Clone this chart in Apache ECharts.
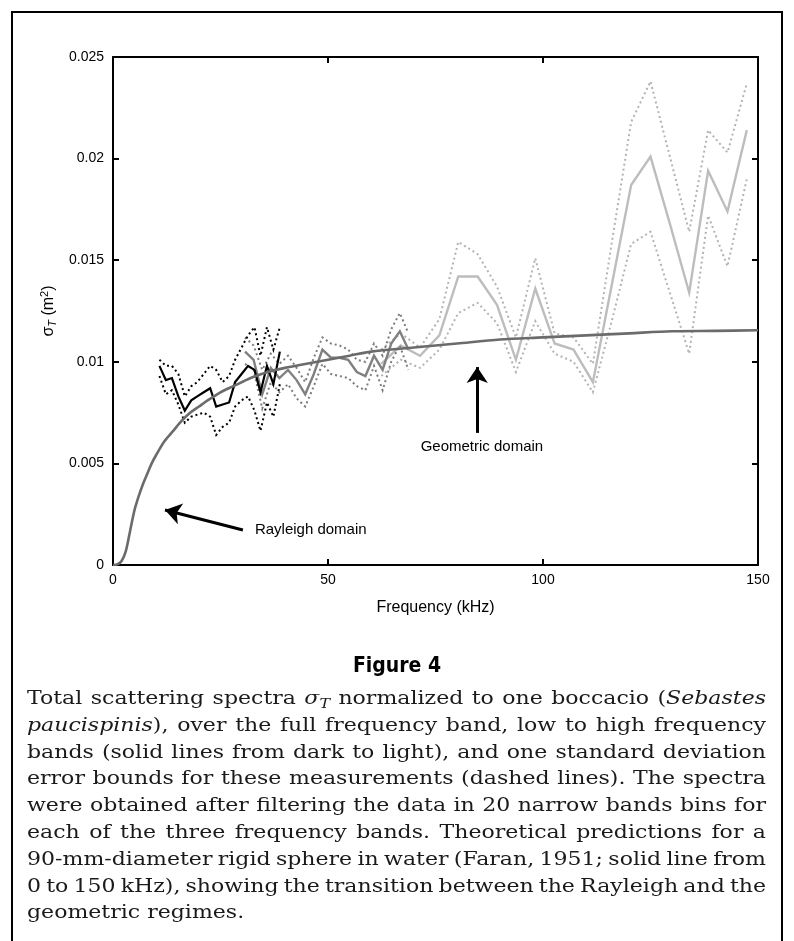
<!DOCTYPE html>
<html><head><meta charset="utf-8">
<script src="https://cdn.jsdelivr.net/npm/echarts@6/dist/echarts.min.js"></script>
<style>html,body{margin:0;padding:0;background:#fff}#c{width:794px;height:941px}</style>
</head><body><div id="c"></div>
<script>
// ---- data (kHz, m^2) ----
const darkFreq  = [10.8, 12.3, 13.7, 15.2, 16.7, 18.2, 19.6, 21.1, 22.6, 24.0, 25.5, 27.0, 28.4, 29.9, 31.4, 32.9, 34.3, 35.8, 37.3, 38.8];
const darkMean  = [0.0098, 0.0091, 0.0092, 0.0083, 0.0076, 0.0081, 0.0083, 0.0085, 0.0087, 0.0078, 0.0079, 0.0080, 0.0090, 0.0094, 0.0098, 0.0096, 0.0085, 0.0098, 0.0089, 0.0105];
const darkUpper = [0.0101, 0.0098, 0.0098, 0.0094, 0.0083, 0.0088, 0.0090, 0.0094, 0.0098, 0.0096, 0.0090, 0.0093, 0.0101, 0.0107, 0.0113, 0.0117, 0.0103, 0.0117, 0.0106, 0.0117];
const darkLower = [0.0093, 0.0084, 0.0086, 0.0079, 0.0070, 0.0073, 0.0074, 0.0075, 0.0073, 0.0064, 0.0068, 0.0070, 0.0078, 0.0081, 0.0083, 0.0076, 0.0066, 0.0080, 0.0073, 0.0089];

const midFreq  = [30.7, 32.7, 34.7, 36.7, 38.7, 40.7, 42.7, 44.7, 46.7, 48.7, 50.7, 52.7, 54.7, 56.7, 58.7, 60.7, 62.7, 64.7, 66.7, 68.7];
const midMean  = [0.0105, 0.0101, 0.0084, 0.0097, 0.0092, 0.0096, 0.0091, 0.0084, 0.0094, 0.0106, 0.0102, 0.0102, 0.0101, 0.0095, 0.0093, 0.0103, 0.0096, 0.0109, 0.0115, 0.0106];
const midUpper = [0.0112, 0.0108, 0.0096, 0.0104, 0.0099, 0.0103, 0.0097, 0.0090, 0.0102, 0.0112, 0.0109, 0.0108, 0.0106, 0.0101, 0.0100, 0.0109, 0.0103, 0.0116, 0.0124, 0.0114];
const midLower = [0.0099, 0.0096, 0.0077, 0.0090, 0.0085, 0.0089, 0.0082, 0.0078, 0.0088, 0.0099, 0.0094, 0.0093, 0.0092, 0.0088, 0.0086, 0.0098, 0.0086, 0.0100, 0.0108, 0.0096];

const lightFreq  = [62.4, 66.9, 71.4, 75.9, 80.3, 84.8, 89.3, 93.7, 98.2, 102.7, 107.1, 111.6, 116.1, 120.5, 125.0, 129.5, 134.0, 138.4, 142.9, 147.4];
const lightMean  = [0.0099, 0.0108, 0.0103, 0.0113, 0.0142, 0.0142, 0.0128, 0.0101, 0.0136, 0.0109, 0.0106, 0.0090, 0.0139, 0.0187, 0.0201, 0.0168, 0.0134, 0.0194, 0.0174, 0.0214];
const lightUpper = [0.0106, 0.0114, 0.0107, 0.0121, 0.0159, 0.0153, 0.0137, 0.0112, 0.0151, 0.0114, 0.0112, 0.0099, 0.0160, 0.0218, 0.0238, 0.0201, 0.0164, 0.0214, 0.0203, 0.0237];
const lightLower = [0.0093, 0.0101, 0.0097, 0.0106, 0.0124, 0.0129, 0.0119, 0.0095, 0.0120, 0.0104, 0.0100, 0.0085, 0.0121, 0.0158, 0.0164, 0.0134, 0.0104, 0.0172, 0.0147, 0.0190];

const theoryFreq = [0, 1, 2, 3, 4, 5, 6, 7, 8, 9, 10, 12, 14, 16, 18, 20, 22, 25, 28, 32, 36, 40, 45, 50, 55, 60, 70, 80, 90, 100, 110, 120, 130, 140, 150];
const theoryVal  = [0, 0.00003, 0.0002, 0.0007, 0.0017, 0.0027, 0.0034, 0.0040, 0.0045, 0.0050, 0.0054, 0.0061, 0.0066, 0.0071, 0.0075, 0.0078, 0.0081, 0.0085, 0.0088, 0.0092, 0.0095, 0.0097, 0.0099, 0.0101, 0.0103, 0.0105, 0.0107, 0.0109, 0.0111, 0.0112, 0.0113, 0.0114, 0.0115, 0.01152, 0.01155];

const yTickLabels = ['0', '0.005', '0.01', '0.015', '0.02', '0.025'];
const xTickLabels = ['0', '50', '100', '150'];

const captionTitle = 'Figure 4';
const captionLines = [
  'Total scattering spectra *σ|_T normalized to one boccacio (|*Sebastes',
  '*paucispinis|), over the full frequency band, low to high frequency',
  'bands (solid lines from dark to light), and one standard deviation',
  'error bounds for these measurements (dashed lines). The spectra',
  'were obtained after filtering the data in 20 narrow bands bins for',
  'each of the three frequency bands. Theoretical predictions for a',
  '90-mm-diameter rigid sphere in water (Faran, 1951; solid line from',
  '0 to 150 kHz), showing the transition between the Rayleigh and the',
  'geometric regimes.'
];

// ---- helpers ----
const zip = (xs, ys) => xs.map((x, i) => [x, ys[i]]);
const DOT = [2, 3];
function lineSeries(name, xs, ys, color, width, dotted, z) {
  return {
    name, type: 'line', data: zip(xs, ys), showSymbol: false, symbol: 'none',
    silent: true, z: z,
    lineStyle: { color, width, type: dotted ? DOT : 'solid', cap: 'butt', join: 'miter' }
  };
}

function buildCaption() {
  const ctx = document.createElement('canvas').getContext('2d');
  const size = 19, sx = 1.16, fam = '"DejaVu Serif", "Liberation Serif", serif';
  const font = (it, sz) => (it ? 'italic ' : '') + sz + 'px ' + fam;
  const els = [];
  const left = 27, right = 766, top0 = 699, lh = 26.8;
  captionLines.forEach((line, li) => {
    const words = line.split(' ').map(w => w.split('|').map(s => {
      if (s[0] === '*') return { t: s.slice(1), it: true };
      if (s[0] === '_') return { t: s.slice(1), it: true, sub: true };
      return { t: s, it: false };
    }));
    const segW = s => { ctx.font = font(s.it, s.sub ? size * 0.72 : size); return ctx.measureText(s.t).width * sx; };
    const wW = words.map(segs => segs.reduce((a, s) => a + segW(s), 0));
    const total = wW.reduce((a, b) => a + b, 0);
    const last = li === captionLines.length - 1;
    ctx.font = font(false, size);
    const sp = ctx.measureText(' ').width * sx;
    const gap = last ? sp : (right - left - total) / (words.length - 1);
    let x = left;
    const y = top0 + li * lh;
    words.forEach((segs, wi) => {
      let xx = x;
      segs.forEach(s => {
        const sz = s.sub ? size * 0.72 : size;
        els.push({
          type: 'text', x: xx, y: s.sub ? y + 5 : y, scaleX: sx, silent: true,
          style: { text: s.t, font: font(s.it, sz), fill: '#1a1a1a', align: 'left', verticalAlign: 'middle' }
        });
        xx += segW(s);
      });
      x += wW[wi] + gap;
    });
  });
  return els;
}

const chart = echarts.init(document.getElementById('c'), null, { renderer: 'canvas' });
const axisFont = '"Liberation Sans", Arial, Helvetica, sans-serif';

const option = {
  animation: false,
  backgroundColor: '#fff',
  grid: { left: 113, right: 36, top: 57, bottom: 376, containLabel: false },
  xAxis: [
    {
      type: 'value', min: 0, max: 150, interval: 50, position: 'bottom',
      axisLine: { onZero: false, lineStyle: { color: '#000', width: 2 } },
      axisTick: { inside: true, length: 6, lineStyle: { color: '#000', width: 2 } },
      splitLine: { show: false },
      axisLabel: { color: '#000', fontSize: 14, fontFamily: axisFont, margin: 8,
        formatter: v => xTickLabels[Math.round(v / 50)] },
      name: 'Frequency (kHz)', nameLocation: 'middle', nameGap: 35,
      nameTextStyle: { color: '#000', fontSize: 16, fontFamily: axisFont }
    },
    {
      type: 'value', min: 0, max: 150, interval: 50, position: 'top',
      axisLine: { onZero: false, lineStyle: { color: '#000', width: 2 } },
      axisTick: { inside: true, length: 6, lineStyle: { color: '#000', width: 2 } },
      splitLine: { show: false }, axisLabel: { show: false }
    }
  ],
  yAxis: [
    {
      type: 'value', min: 0, max: 0.025, interval: 0.005, position: 'left',
      axisLine: { onZero: false, lineStyle: { color: '#000', width: 2 } },
      axisTick: { inside: true, length: 6, lineStyle: { color: '#000', width: 2 } },
      splitLine: { show: false },
      axisLabel: { color: '#000', fontSize: 14, fontFamily: axisFont, margin: 9,
        formatter: v => yTickLabels[Math.round(v / 0.005)] },
      name: '{a|σ}{b|T}{a| (m}{c|2}{a|)}', nameLocation: 'middle', nameGap: 33, nameRotate: 90,
      nameTextStyle: {
        color: '#000', fontFamily: axisFont,
        rich: {
          a: { fontSize: 16, fontFamily: axisFont, color: '#000' },
          b: { fontSize: 11, fontFamily: axisFont, fontStyle: 'italic', color: '#000', padding: [8, 0, 0, 0] },
          c: { fontSize: 11, fontFamily: axisFont, color: '#000', padding: [0, 0, 8, 0] }
        }
      }
    },
    {
      type: 'value', min: 0, max: 0.025, interval: 0.005, position: 'right',
      axisLine: { onZero: false, lineStyle: { color: '#000', width: 2 } },
      axisTick: { inside: true, length: 6, lineStyle: { color: '#000', width: 2 } },
      splitLine: { show: false }, axisLabel: { show: false }
    }
  ],
  series: [
    lineSeries('light upper', lightFreq, lightUpper, '#b3b3b3', 2, true, 2),
    lineSeries('light lower', lightFreq, lightLower, '#b3b3b3', 2, true, 2),
    lineSeries('light mean', lightFreq, lightMean, '#bdbdbd', 2.4, false, 3),
    lineSeries('mid upper', midFreq, midUpper, '#7c7c7c', 2, true, 4),
    lineSeries('mid lower', midFreq, midLower, '#7c7c7c', 2, true, 4),
    lineSeries('mid mean', midFreq, midMean, '#808080', 2.4, false, 5),
    lineSeries('dark upper', darkFreq, darkUpper, '#000', 2, true, 6),
    lineSeries('dark lower', darkFreq, darkLower, '#000', 2, true, 6),
    lineSeries('dark mean', darkFreq, darkMean, '#000', 2.2, false, 7),
    Object.assign(lineSeries('theory', theoryFreq, theoryVal, '#6b6b6b', 2.6, false, 8), {
      smooth: 0.3,
      markLine: {
        silent: true, animation: false,
        symbol: ['none', 'arrow'], symbolSize: 16,
        lineStyle: { color: '#000', width: 3, type: 'solid' },
        label: { show: false },
        data: [
          [{ coord: [30.2, 0.00172] }, { coord: [12.1, 0.00271] }],
          [{ coord: [84.7, 0.0065] }, { coord: [84.7, 0.00974] }]
        ]
      },
      markPoint: {
        silent: true, animation: false, symbol: 'circle', symbolSize: 0,
        itemStyle: { color: 'rgba(0,0,0,0)' },
        data: [
          { coord: [33.0, 0.00172], label: { show: true, position: 'right', distance: 0, formatter: 'Rayleigh domain',
              color: '#000', fontSize: 15, fontFamily: axisFont } },
          { coord: [85.8, 0.0058], label: { show: true, position: 'inside', formatter: 'Geometric domain',
              color: '#000', fontSize: 15, fontFamily: axisFont } }
        ]
      }
    })
  ],
  graphic: [
    { type: 'polyline', silent: true, shape: { points: [[12, 950], [12, 12], [782, 12], [782, 950]] },
      style: { stroke: '#000', lineWidth: 2, fill: null } },
    { type: 'text', x: 397, y: 667, silent: true,
      style: { text: captionTitle, font: 'bold 21px "Liberation Sans Narrow", "DejaVu Sans Condensed", sans-serif',
        fill: '#000', align: 'center', verticalAlign: 'middle' } }
  ].concat(buildCaption())
};
chart.setOption(option);
</script>
</body></html>
